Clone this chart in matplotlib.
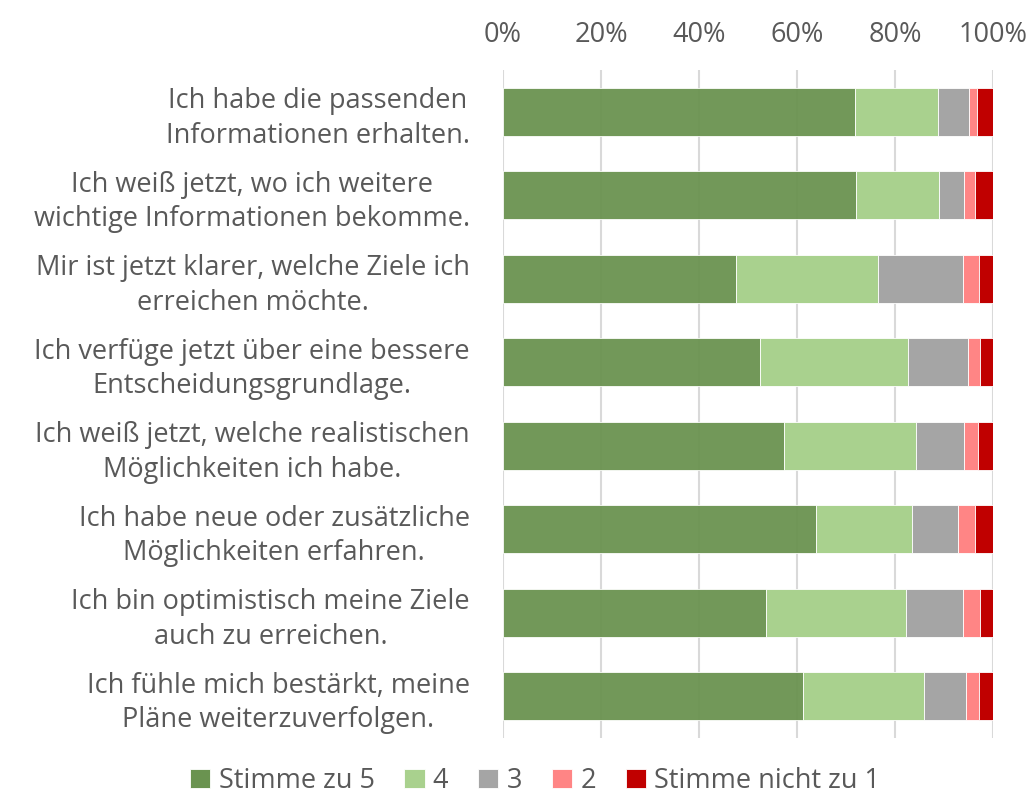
import matplotlib
matplotlib.use("Agg")
import matplotlib.pyplot as plt
import numpy as np

categories = [
    "Ich habe die passenden\nInformationen erhalten.",
    "Ich weiß jetzt, wo ich weitere\nwichtige Informationen bekomme.",
    "Mir ist jetzt klarer, welche Ziele ich\nerreichen möchte.",
    "Ich verfüge jetzt über eine bessere\nEntscheidungsgrundlage.",
    "Ich weiß jetzt, welche realistischen\nMöglichkeiten ich habe.",
    "Ich habe neue oder zusätzliche\nMöglichkeiten erfahren.",
    "Ich bin optimistisch meine Ziele\nauch zu erreichen.",
    "Ich fühle mich bestärkt, meine\nPläne weiterzuverfolgen.",
]
series_names = ["Stimme zu 5", "4", "3", "2", "Stimme nicht zu 1"]
s5 = [71.8, 72.0, 47.5, 52.4, 57.4, 63.9, 53.7, 61.2]
s4 = [17.0, 17.0, 29.1, 30.3, 26.9, 19.6, 28.6, 24.7]
s3 = [6.4, 5.0, 17.2, 12.1, 9.7, 9.4, 11.5, 8.5]
s2 = [1.5, 2.4, 3.3, 2.5, 3.0, 3.4, 3.6, 2.7]
s1 = [3.3, 3.6, 2.9, 2.7, 3.0, 3.7, 2.6, 2.9]
colors = ["#6a9350", "#a9d18e", "#a5a5a5", "#ff8585", "#c00000"]
alphas = [0.95, 1, 1, 1, 1]
xticklabels = ["0%", "20%", "40%", "60%", "80%", "100%"]

plt.rcParams['font.family'] = ['Open Sans', 'DejaVu Sans']
fig = plt.figure(figsize=(10.29, 8.05), dpi=100)
ax = fig.add_axes([503/1029, 1-738/805, 490/1029, 668/805])

y = np.arange(len(categories))
left = np.zeros(len(categories))
for vals, c, a, name in zip([s5, s4, s3, s2, s1], colors, alphas, series_names):
    ax.barh(y, vals, left=left, height=0.57, color=c, alpha=a, label=name,
            edgecolor="#ffffff80", linewidth=0.6, zorder=3)
    left += np.array(vals)

ax.set_ylim(len(categories) - 0.5, -0.5)
ax.set_xlim(0, 100)
ax.set_xticks([0, 20, 40, 60, 80, 100])
ax.set_xticklabels(xticklabels)
ax.xaxis.tick_top()
ax.tick_params(axis='x', length=0, labelsize=19.5, colors="#595959", pad=15)
ax.set_yticks(y)
ax.set_yticklabels(categories, multialignment='center', linespacing=1.3)
ax.tick_params(axis='y', length=0, labelsize=19.5, colors="#595959", pad=24)
for sp in ax.spines.values():
    sp.set_visible(False)
ax.grid(axis='x', color="#d9d9d9", linewidth=1.5, zorder=1)
ax.set_axisbelow(True)

handles, labels = ax.get_legend_handles_labels()
leg = fig.legend(handles, labels, loc='center', bbox_to_anchor=(0.52, 1-781/805), ncol=5,
                 frameon=False, fontsize=19.5, handlelength=0.75, handleheight=0.75,
                 handletextpad=0.3, columnspacing=1.1)
for t in leg.get_texts():
    t.set_color("#595959")
for h in leg.legend_handles:
    h.set_alpha(1)
fig.savefig("out.png", dpi=100)
